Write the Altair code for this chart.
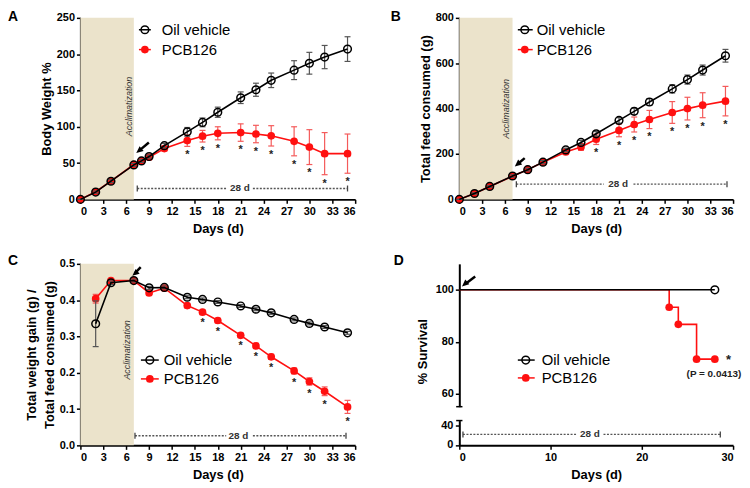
import altair as alt
import pandas as pd

# ---------------- data ----------------
# Panel A: Body weight %
days_A = [0, 2, 4, 7, 8, 9, 11, 14, 16, 18, 21, 23, 25, 28, 30, 32, 35]
oil_A = [0, 10, 25, 47.5, 53, 59, 74, 93, 106, 120, 140, 151, 164, 178, 187.5, 196, 207]
oil_A_err = [0, 1.5, 2, 2, 2, 2, 3, 6, 6, 7, 8, 9, 10, 13, 15, 16, 17]
pcb_A = [0, 10.5, 25, 48, 53, 58, 70, 81, 87, 91, 92, 90, 87.5, 80, 72, 63, 63]
pcb_A_err = [0, 1.5, 2, 2, 2, 2, 3, 8, 8, 9, 12, 12, 14, 20, 24, 29, 27]
stars_A = [14, 16, 18, 21, 23, 25, 28, 30, 32, 35]

# Panel B: Total feed consumed (g)
days_B = [0, 2, 4, 7, 9, 11, 14, 16, 18, 21, 23, 25, 28, 30, 32, 35]
oil_B = [0, 26, 57, 103, 131, 164, 218, 251, 289, 348, 388, 429, 487, 528, 570, 633]
oil_B_err = [0, 3, 4, 5, 6, 7, 8, 9, 10, 12, 14, 15, 18, 20, 22, 28]
pcb_B = [0, 26, 57, 102, 131, 164, 209, 231, 265, 304, 330, 352, 383, 400, 415, 433]
pcb_B_err = [0, 3, 4, 5, 6, 7, 10, 15, 23, 28, 33, 40, 48, 50, 55, 65]
stars_B = [18, 21, 23, 25, 28, 30, 32, 35]

# Panel C: weight gain / feed consumed
days_C = [2, 4, 7, 9, 11, 14, 16, 18, 21, 23, 25, 28, 30, 32, 35]
oil_C = [0.335, 0.448, 0.454, 0.434, 0.435, 0.408, 0.402, 0.395, 0.384, 0.375, 0.365,
         0.347, 0.336, 0.326, 0.31]
oil_C_err = [0.063, 0.005, 0.004, 0.004, 0.004, 0.004, 0.004, 0.004, 0.004, 0.004, 0.004,
             0.004, 0.004, 0.004, 0.004]
pcb_C = [0.404, 0.454, 0.454, 0.42, 0.433, 0.385, 0.367, 0.344, 0.303, 0.274, 0.244,
         0.205, 0.176, 0.149, 0.106]
pcb_C_err = [0.012, 0.005, 0.004, 0.005, 0.005, 0.006, 0.006, 0.006, 0.006, 0.007, 0.007,
             0.008, 0.01, 0.012, 0.018]
stars_C = [16, 18, 21, 23, 25, 28, 30, 32, 35]

# Panel D: survival
surv_days_oil = [0, 28]
surv_oil = [100, 100]
surv_days_pcb = [0, 23, 24, 26, 28]
surv_pcb = [100, 93.3, 86.7, 73.3, 73.3]
ticks_D_upper = [60, 80, 100]
ticks_D_lower = [0, 40]
axis_break_upper = [55]
axis_break_lower = [50]

# annotations: arrow [head_x, head_y, tail_x, tail_y]
arrow_A = [7.32, 63.8, 8.97, 78.3]
arrow_B = [7.3, 145, 8.6, 182]
arrow_C = [6.8, 0.467, 7.9, 0.491]
arrow_D = [0.29, 101.3, 1.74, 105.1]
# "28 d" bracket [start, end, y, gap_left, gap_right, text_x]
bracket_A = [7.45, 35, 15, 19.1, 22.6, 20.9]
bracket_B = [7.5, 35.2, 67, 19.0, 22.9, 20.9]
bracket_C = [7.15, 34.8, 0.0265, 19.1, 22.6, 20.7]
bracket_D = [0.4, 28.6, 22, 12.9, 15.8, 14.3]
# Acclimatization label [x, y]
acc_A = [6.37, 128]
acc_B = [6.1, 399]
acc_C = [6.15, 0.263]

RED = "#ff1010"
RED_ERR = "#f45a5a"
TAN = "#ebe3cb"
FONT = "Liberation Sans"
W, H = 277, 183
ONE = pd.DataFrame({"k": [0]})
TRI = "M0,0L0.9,2L-0.9,2Z"
HBAR = "M-1,0L1,0"


def frame(days, vals, errs):
    return pd.DataFrame({
        "day": days, "v": vals,
        "lo": [v - e for v, e in zip(vals, errs)],
        "hi": [v + e for v, e in zip(vals, errs)],
    })


def legend_layers(x0, x1, xc, y1, y2, tx):
    out = []
    for y, col, filled, label in [(y1, "black", False, "Oil vehicle"), (y2, RED, True, "PCB126")]:
        out.append(alt.Chart(ONE).mark_rule(color=col, strokeWidth=1.5).encode(
            x=alt.value(x0), x2=alt.value(x1), y=alt.value(y)))
        out.append(alt.Chart(ONE).mark_point(filled=filled, color=col, size=60, strokeWidth=1.5,
                                             opacity=1).encode(x=alt.value(xc), y=alt.value(y)))
        out.append(alt.Chart(ONE).mark_text(text=label, font=FONT, fontSize=15, align="left",
                                            baseline="middle", color="black").encode(
            x=alt.value(tx), y=alt.value(y)))
    return out


def letter_layer(letter, x, y):
    return alt.Chart(ONE).mark_text(text=letter, font=FONT, fontSize=14, fontWeight="bold",
                                    align="left", baseline="top", color="black").encode(
        x=alt.value(x), y=alt.value(y))


def arrow_layers(arrow, X, Y):
    hx, hy, tx, ty = arrow
    df = pd.DataFrame({"tx": [tx], "ty": [ty],
                       "ex": [hx + 0.35 * (tx - hx)], "ey": [hy + 0.35 * (ty - hy)],
                       "hx": [hx], "hy": [hy]})
    shaft = alt.Chart(df).mark_rule(color="black", strokeWidth=2.5).encode(
        x=X("tx"), y=Y("ty"), x2="ex", y2="ey")
    head = alt.Chart(df).mark_point(shape=TRI, size=49, filled=True, color="black", opacity=1,
                                    angle=230).encode(x=X("hx"), y=Y("hy"))
    return [shaft, head]


def bracket_layers(br, X, Y, cap_size=36):
    s, e, y, gl, gr, tx = br
    seg = pd.DataFrame({"a": [s, gr], "b": [gl, e], "y": [y, y]})
    caps = pd.DataFrame({"a": [s, e], "y": [y, y]})
    txt = pd.DataFrame({"a": [tx], "y": [y]})
    return [
        alt.Chart(seg).mark_rule(color="#555555", strokeWidth=1.3, strokeDash=[2, 1.5]).encode(
            x=X("a"), x2="b", y=Y("y")),
        alt.Chart(caps).mark_point(shape="M0,-1L0,1", size=cap_size, color="#444444",
                                   strokeWidth=1.3, opacity=1).encode(x=X("a"), y=Y("y")),
        alt.Chart(txt).mark_text(text="28 d", font=FONT, fontSize=10, fontWeight="bold",
                                 color="#333333", baseline="middle").encode(x=X("a"), y=Y("y")),
    ]


def series_layers(df, X, Y, color, err_color, filled, size):
    err = alt.Chart(df).mark_rule(color=err_color, strokeWidth=1.2).encode(
        x=X("day"), y=Y("lo"), y2="hi")
    cap_hi = alt.Chart(df).mark_point(shape=HBAR, size=36, color=err_color,
                                      strokeWidth=1.2, opacity=1).encode(x=X("day"), y=Y("hi"))
    cap_lo = alt.Chart(df).mark_point(shape=HBAR, size=36, color=err_color,
                                      strokeWidth=1.2, opacity=1).encode(x=X("day"), y=Y("lo"))
    line = alt.Chart(df).mark_line(color=color, strokeWidth=1.6).encode(x=X("day"), y=Y("v"))
    pts = alt.Chart(df).mark_point(filled=filled, color=color, size=size, strokeWidth=1.5,
                                   opacity=1).encode(x=X("day"), y=Y("v"))
    return [err, cap_hi, cap_lo, line, pts]


def growth_panel(letter, letter_xy, days_o, oil, oil_err, days_p, pcb, pcb_err, stars,
                 ydom, yvals, yfmt, ytitle, ytp, arrow, acc, bracket, leg, width):
    xs = alt.Scale(domain=[0, 36], nice=False, zero=False)
    ys = alt.Scale(domain=ydom, nice=False, zero=False)
    xa = alt.Axis(values=list(range(0, 37, 3)), title="Days (d)", titlePadding=6)
    ya = alt.Axis(values=yvals, format=yfmt, title=ytitle, titlePadding=ytp, titleLineHeight=18)

    def X(f):
        return alt.X(f, type="quantitative", scale=xs, axis=xa)

    def Y(f):
        return alt.Y(f, type="quantitative", scale=ys, axis=ya)

    do = frame(days_o, oil, oil_err)
    dp = frame(days_p, pcb, pcb_err)
    ds = dp[dp["day"].isin(stars)]

    layers = []
    layers.append(alt.Chart(pd.DataFrame({"a": [0], "b": [7]})).mark_rect(color=TAN).encode(
        x=X("a"), x2="b", y=alt.value(0), y2=alt.value(H)))
    layers.append(alt.Chart(pd.DataFrame({"a": [acc[0]], "y": [acc[1]]})).mark_text(
        text="Acclimatization", font=FONT, fontSize=9, fontStyle="italic", color="#333333",
        angle=270, baseline="middle").encode(x=X("a"), y=Y("y")))
    layers += bracket_layers(bracket, X, Y)
    layers += series_layers(dp, X, Y, RED, RED_ERR, True, 60)
    layers += series_layers(do, X, Y, "black", "#555555", False, 60)
    layers.append(alt.Chart(ds).mark_text(text="*", font=FONT, fontSize=11, fontWeight="bold",
                                          color="#222222", baseline="top", dy=3).encode(
        x=X("day"), y=Y("lo")))
    layers += arrow_layers(arrow, X, Y)
    layers += legend_layers(*leg)
    layers.append(letter_layer(letter, *letter_xy))
    return alt.layer(*layers).properties(width=width, height=H)


panel_A = growth_panel("A", (-73, -8), days_A, oil_A, oil_A_err, days_A, pcb_A, pcb_A_err,
                       stars_A, [0, 250], [0, 50, 100, 150, 200, 250], "d", "Body Weight %", 3,
                       arrow_A, acc_A, bracket_A, (59, 71, 65, 12, 32, 82), W)
panel_B = growth_panel("B", (-69, -8), days_B, oil_B, oil_B_err, days_B, pcb_B, pcb_B_err,
                       stars_B, [0, 800], [0, 200, 400, 600, 800], "d",
                       "Total feed consumed (g)", 3, arrow_B, acc_B, bracket_B,
                       (59, 74, 66, 12, 32, 78), 276)
panel_C = growth_panel("C", (-73, -10), days_C, oil_C, oil_C_err, days_C, pcb_C, pcb_C_err,
                       stars_C, [0, 0.5], [0, 0.1, 0.2, 0.3, 0.4, 0.5], ".1f",
                       ["Total weight gain (g) /", "Total feed consumed (g)"], 3,
                       arrow_C, acc_C, bracket_C, (61, 79, 70, 97, 116, 84), W)

# ---------------- Panel D (broken y axis: two y scales in one layer) ----------------
xsD = alt.Scale(domain=[0, 30], nice=False, zero=False)
ysU = alt.Scale(domain=[55, 110], range=[144, 0], nice=False, zero=False)
ysL = alt.Scale(domain=[0, 50], range=[183, 158], nice=False, zero=False)
yaU = alt.Axis(values=ticks_D_upper, title="% Survival", titleX=-30, titleY=88, orient="left",
               labelOverlap=False)
yaL = alt.Axis(values=ticks_D_lower, labels=False, title=None, orient="left")
xaD = alt.Axis(values=[0, 10, 20, 30], title="Days (d)", titlePadding=6)


def XD(f):
    return alt.X(f, type="quantitative", scale=xsD, axis=xaD)


def YU(f):
    return alt.Y(f, type="quantitative", scale=ysU, axis=yaU)


def YL(f):
    return alt.Y(f, type="quantitative", scale=ysL, axis=yaL)


dso = pd.DataFrame({"day": surv_days_oil, "v": surv_oil})
dsp = pd.DataFrame({"day": surv_days_pcb, "v": surv_pcb})

d_layers = [
    alt.Chart(dsp).mark_line(color=RED, strokeWidth=1.6, interpolate="step-after").encode(
        x=XD("day"), y=YU("v")),
    alt.Chart(dsp[dsp["day"] > 0]).mark_point(filled=True, color=RED, size=60, opacity=1).encode(
        x=XD("day"), y=YU("v")),
    alt.Chart(dso).mark_line(color="black", strokeWidth=1.6).encode(x=XD("day"), y=YU("v")),
    alt.Chart(dso[dso["day"] > 0]).mark_point(filled=False, color="black", size=60,
                                               strokeWidth=1.5, opacity=1).encode(
        x=XD("day"), y=YU("v")),
    alt.Chart(pd.DataFrame({"a": [29.5], "y": [73.2]})).mark_text(
        text="*", font=FONT, fontSize=13, fontWeight="bold", color="#222222", baseline="middle",
        dy=1).encode(x=XD("a"), y=YU("y")),
    alt.Chart(pd.DataFrame({"a": [27.9], "y": [67.6]})).mark_text(
        text="(P = 0.0413)", font=FONT, fontSize=10, fontWeight="bold", color="#222222",
        baseline="middle").encode(x=XD("a"), y=YU("y")),
    alt.Chart(pd.DataFrame({"a": [0] * len(axis_break_upper), "y": axis_break_upper})).mark_point(
        shape=HBAR, size=40, color="black", strokeWidth=1.5, opacity=1).encode(
        x=XD("a"), y=YU("y")),
]
d_layers += arrow_layers(arrow_D, XD, YU)
d_layers += legend_layers(59, 76, 67, 97, 115, 83)
d_layers.append(letter_layer("D", -66, -10))
upper_D = alt.layer(*d_layers)
lower_lab = pd.DataFrame({"a": [0] * len(ticks_D_lower), "y": ticks_D_lower,
                          "t": [str(v) for v in ticks_D_lower]})
lower_D = alt.layer(
    *bracket_layers(bracket_D, XD, YL),
    alt.Chart(pd.DataFrame({"a": [0] * len(axis_break_lower), "y": axis_break_lower})).mark_point(
        shape=HBAR, size=40, color="black", strokeWidth=1.5, opacity=1).encode(
        x=XD("a"), y=YL("y")),
    alt.Chart(lower_lab).mark_text(font=FONT, fontSize=11, fontWeight="bold", color="black",
                                   align="right", baseline="middle", dx=-6).encode(
        x=XD("a"), y=YL("y"), text="t:N"),
)
panel_D = alt.layer(upper_D, lower_D).resolve_scale(y="independent").properties(
    width=276, height=183)

chart = alt.concat(panel_A, panel_B, panel_C, panel_D, columns=2,
                   spacing={"row": 65, "column": 105}, bounds="flush").properties(
    padding=0
).configure_axis(
    domainColor="black", domainWidth=2, tickColor="black", tickWidth=1.5, tickSize=4,
    labelPadding=2, labelFont=FONT, labelFontSize=11, labelFontWeight="bold",
    labelColor="black", titleFont=FONT, titleFontSize=13, titleFontWeight="bold",
    titleColor="black", grid=False
).configure_view(stroke=None)

chart.save("out.html", embed_options={"renderer": "svg", "actions": False})
